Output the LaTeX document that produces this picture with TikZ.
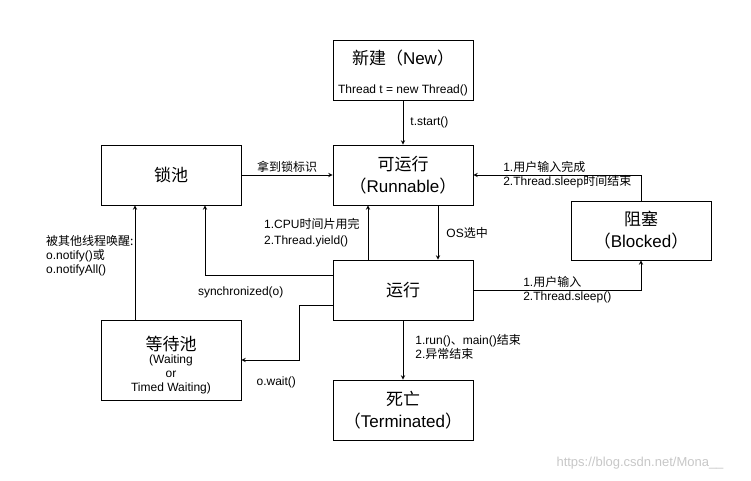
\documentclass[tikz,border=0pt]{standalone}
\usepackage{fontspec}
\setmainfont{Liberation Sans}
\newfontfamily\zh{Noto Sans CJK SC}
\usepackage{tikz}
\usetikzlibrary{positioning}
\tikzstyle{arrow} = [line width=0.9pt,->,>=stealth]

\begin{document}
\begin{tikzpicture} [x=1pt,y=-1pt,
    state/.style={rectangle,draw,line width=0.9pt,minimum width=140pt,minimum height=60pt,align=center,font=\fontsize{17}{22}\selectfont},
    lbl/.style={font=\fontsize{12}{14}\selectfont,align=left,inner sep=2pt},
    ]
    \useasboundingbox (0,0) rectangle (751,481);

    \node [state] (kyx) at (403,175) {{\zh 可运行}\\{\zh （}Runnable{\zh ）}};
    \path (kyx) ++(0,-105) node [state] (new) {\rule{0pt}{20pt}{\zh 新建（}New{\zh ）}\\[7pt]{\fontsize{12}{13}\selectfont Thread t = new Thread()}};
    \path (kyx) ++(-232,0) node [state] (suo) {{\zh 锁池}};
    \path (kyx) ++(0,115) node [state] (yx) {{\zh 运行}};
    \path (yx) ++(0,120) node [state] (sw) {{\zh 死亡}\\{\zh （}Terminated{\zh ）}};
    \path (suo) ++(0,185) node [state,minimum height=80pt,font=\fontsize{12}{14}\selectfont] (dd) {\rule{0pt}{24pt}{\fontsize{17}{20}\selectfont\zh 等待池}\\[-1pt](Waiting\\or\\Timed Waiting)};
    \path (kyx) ++(238,55.5) node [state,minimum height=59pt] (zs) {{\zh 阻塞}\\{\zh （}Blocked{\zh ）}};

    \draw[arrow] (new) -- (kyx) node [lbl,right,pos=0.5,xshift=5pt] (l1) {t.start()};
    \draw[arrow] (suo) -- (kyx) node [lbl,above,pos=0.5] (l2) {{\zh 拿到锁标识}};
    \draw[arrow] ([xshift=35pt]kyx.south) -- ([xshift=35pt]yx.north) node [lbl,right,pos=0.5,xshift=6pt] (l3) {OS{\zh 选中}};
    \draw[arrow] ([xshift=-35pt]yx.north) -- ([xshift=-35pt]kyx.south) node [lbl,left,pos=0.5,xshift=-6pt] (l4) {1.CPU{\zh 时间片用完}\\[2pt]2.Thread.yield()};
    \draw[arrow] (zs.north) |- (kyx.east) node [lbl,pos=0.72] (l5) {1.{\zh 用户输入完成}\\2.Thread.sleep{\zh 时间结束}};
    \draw[arrow] (yx.east) -| (zs.south) node [lbl,pos=0.28] (l6) {1.{\zh 用户输入}\\2.Thread.sleep()};
    \draw[arrow] ([yshift=15pt]yx.west) -| ([xshift=34pt]suo.south) node [lbl,below,pos=0.36,yshift=-9pt] (l7) {synchronized(o)};
    \draw[arrow] ([yshift=-15pt]yx.west) -- ++(-33,0) |- (dd.east) node [lbl,below,pos=0.7,yshift=-14pt] (l8) {o.wait()};
    \draw[arrow] ([xshift=-36pt]dd.north) -- ([xshift=-36pt]suo.south) node [lbl,left,pos=0.56,xshift=1pt] (l9) {{\zh 被其他线程唤醒:}\\o.notify(){\zh 或}\\o.notifyAll()};
    \draw[arrow] (yx) -- (sw) node [lbl,right,pos=0.45,xshift=10pt] (l10) {1.run(){\zh 、}main(){\zh 结束}\\2.{\zh 异常结束}};

    \node [font=\fontsize{13}{15}\selectfont,text=black!22] (wm) at (640,463) {https://blog.csdn.net/Mona\_\_};
\end{tikzpicture}
\end{document}
